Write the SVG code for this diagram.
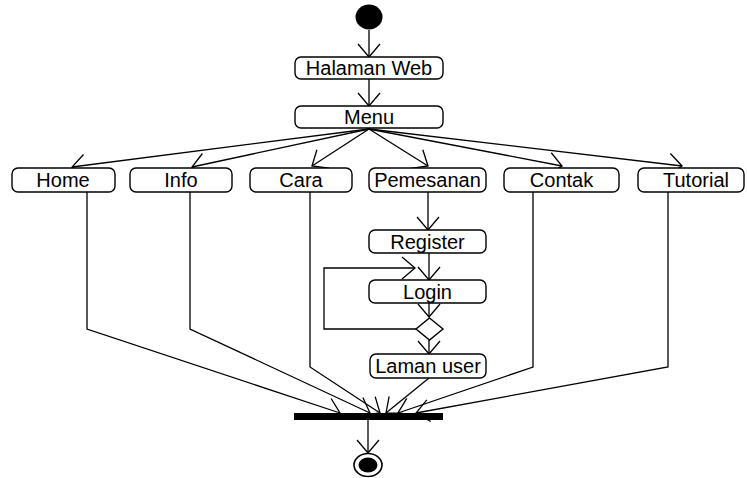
<svg xmlns="http://www.w3.org/2000/svg" width="747" height="478" viewBox="0 0 747 478">
  <style>
    .box { fill: #fff; stroke: #000; stroke-width: 1.4; }
    .lbl { font-family: "Liberation Sans", Arial, sans-serif; font-size: 20px; fill: #000; text-anchor: middle; }
    .edge { fill: none; stroke: #000; stroke-width: 1.3; marker-end: url(#open); }
    .plain { fill: none; stroke: #000; stroke-width: 1.3; }
  </style>
  <defs>
    <marker id="open" markerUnits="userSpaceOnUse" markerWidth="30" markerHeight="30" viewBox="-15 -15 30 30" refX="0" refY="0" orient="auto">
      <path d="M-13,-11 L0,0 L-13,11" fill="none" stroke="#000" stroke-width="1.3"/>
    </marker>
  </defs>
  <rect width="747" height="478" fill="#fff"/>

  <!-- connectors -->
  <g id="connectors">
    <path class="edge" d="M369,30 L369,57"/>
    <path class="edge" d="M369,79 L369,106"/>
    <!-- menu fan-out -->
    <path class="edge" d="M369,129 L72,167"/>
    <path class="edge" d="M369,129 L192,167"/>
    <path class="edge" d="M369,129 L312,166"/>
    <path class="edge" d="M369,129 L428,166"/>
    <path class="edge" d="M369,129 L562,166"/>
    <path class="edge" d="M369,129 L682,166"/>
    <!-- ordering flow -->
    <path class="edge" d="M428,192 L428,230"/>
    <path class="edge" d="M429,253 L429,280"/>
    <path class="edge" d="M429,303 L429,317"/>
    <path class="edge" d="M429,340 L429,354"/>
    <path class="edge" d="M416,329 L324,329 L324,268 L415,268"/>
    <!-- into the join bar -->
    <path class="edge" d="M87,192 L87,329 L340,413"/>
    <path class="edge" d="M190,192 L190,329 L370,413"/>
    <path class="edge" d="M310,192 L310,367 L380,413"/>
    <path class="edge" d="M429,378 L386,413"/>
    <path class="edge" d="M533,192 L533,367 L398,413"/>
    <path class="edge" d="M668,192 L668,367 L416,413"/>
    <!-- to final -->
    <path class="edge" d="M368,420 L368,453"/>
  </g>

  <g id="start">
    <ellipse cx="369" cy="17" rx="13.5" ry="12.5" fill="#000"/>
  </g>

  <g id="halaman-web">
    <rect class="box" x="295" y="57" width="148" height="22" rx="6"/>
    <text class="lbl" x="369" y="75">Halaman Web</text>
  </g>
  <g id="menu">
    <rect class="box" x="295" y="106" width="148" height="22" rx="6"/>
    <text class="lbl" x="369" y="124">Menu</text>
  </g>

  <g id="home">
    <rect class="box" x="12" y="168" width="103" height="24" rx="6"/>
    <text class="lbl" x="63" y="187">Home</text>
  </g>
  <g id="info">
    <rect class="box" x="130" y="168" width="102" height="24" rx="6"/>
    <text class="lbl" x="181" y="187">Info</text>
  </g>
  <g id="cara">
    <rect class="box" x="250" y="168" width="102" height="24" rx="6"/>
    <text class="lbl" x="301" y="187">Cara</text>
  </g>
  <g id="pemesanan">
    <rect class="box" x="369" y="168" width="117" height="24" rx="6"/>
    <text class="lbl" x="427.5" y="187">Pemesanan</text>
  </g>
  <g id="contak">
    <rect class="box" x="504" y="168" width="115" height="24" rx="6"/>
    <text class="lbl" x="561.5" y="187">Contak</text>
  </g>
  <g id="tutorial">
    <rect class="box" x="638" y="168" width="106" height="24" rx="6"/>
    <text class="lbl" x="696" y="187">Tutorial</text>
  </g>

  <g id="register">
    <rect class="box" x="369" y="230" width="117" height="23" rx="6"/>
    <text class="lbl" x="427.5" y="248.5">Register</text>
  </g>
  <g id="login">
    <rect class="box" x="369" y="280" width="117" height="23" rx="6"/>
    <text class="lbl" x="427.5" y="298.5">Login</text>
  </g>
  <g id="decision">
    <polygon class="box" points="429.5,318 443,329 429.5,340 416,329"/>
  </g>
  <g id="laman-user">
    <rect class="box" x="370" y="354" width="116" height="24" rx="6"/>
    <text class="lbl" x="428" y="373">Laman user</text>
  </g>

  <g id="join">
    <rect x="294" y="413" width="149" height="7" fill="#000"/>
  </g>

  <g id="final">
    <ellipse cx="368" cy="465" rx="14" ry="11.5" fill="#fff" stroke="#000" stroke-width="1.6"/>
    <ellipse cx="368" cy="465" rx="9.5" ry="7.5" fill="#000"/>
  </g>
</svg>
